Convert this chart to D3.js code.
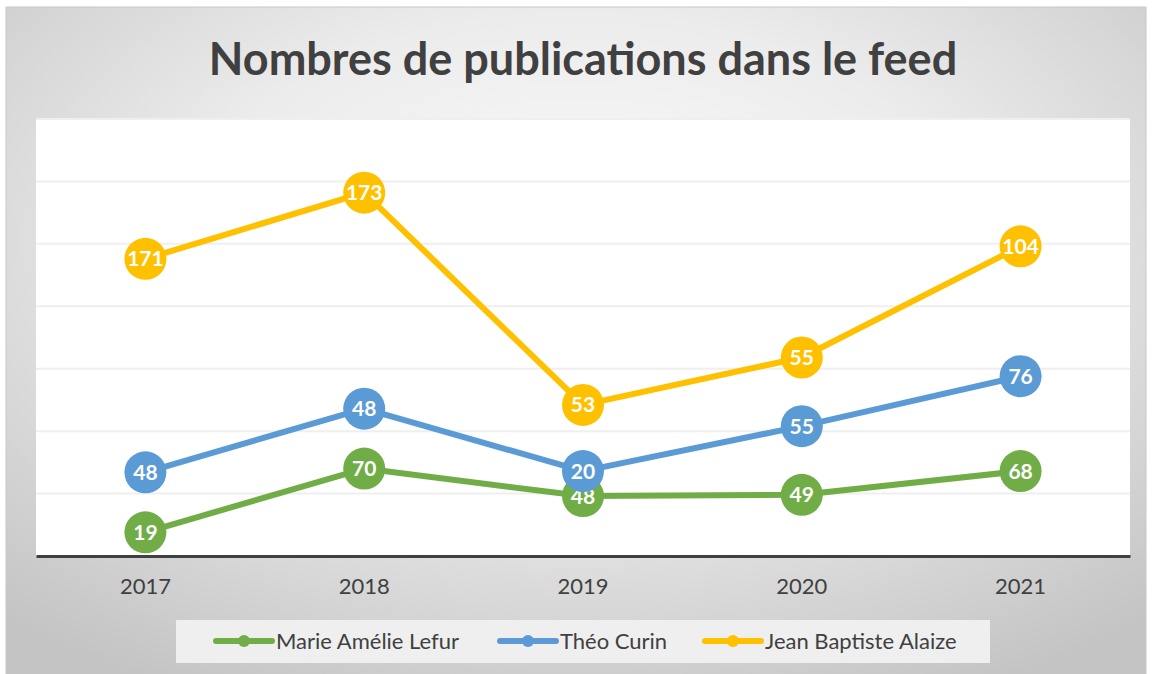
<!DOCTYPE html>
<html>
<head>
<meta charset="utf-8">
<script src="https://cdn.jsdelivr.net/npm/d3@7"></script>
<style>
  body { margin: 0; background: #fff; }
  svg { display: block; }
</style>
</head>
<body>
<div id="chart"></div>
<script>
// Data (stacked lines)
const years = ['2017', '2018', '2019', '2020', '2021'];
const marie = [19, 70, 48, 49, 68];
const theo = [48, 48, 20, 55, 76];
const jean = [171, 173, 53, 55, 104];
const seriesNames = ['Marie Amélie Lefur', 'Théo Curin', 'Jean Baptiste Alaize'];
const seriesColors = ['#70ad47', '#5b9bd5', '#ffc000'];
const yTicks = [0, 50, 100, 150, 200, 250, 300, 350];

const W = 1152, H = 674;
const plot = { left: 36, right: 1130, top: 119, bottom: 556 };

const svg = d3.select('#chart').append('svg')
	.attr('width', W)
	.attr('height', H);

// Background gradient like the Excel chart area
const defs = svg.append('defs');
const grad = defs.append('radialGradient')
	.attr('id', 'bg')
	.attr('cx', '50%').attr('cy', '35%')
	.attr('r', '75%');
grad.append('stop').attr('offset', '0%').attr('stop-color', '#fbfbfb');
grad.append('stop').attr('offset', '45%').attr('stop-color', '#ececec');
grad.append('stop').attr('offset', '100%').attr('stop-color', '#c4c4c4');

svg.append('rect')
	.attr('x', 6).attr('y', 7)
	.attr('width', 1140).attr('height', 670)
	.attr('fill', 'url(#bg)')
	.attr('stroke', '#c8c8c8')
	.attr('stroke-width', 1);

// Title
svg.append('text')
	.attr('x', 583)
	.attr('y', 75)
	.attr('text-anchor', 'middle')
	.attr('fill', '#404040')
	.style('font-family', 'Lato, "Open Sans", sans-serif')
	.style('font-weight', 'bold')
	.style('font-size', '45px')
	.text('Nombres de publications dans le feed');

// Plot area
svg.append('rect')
	.attr('x', plot.left).attr('y', plot.top)
	.attr('width', plot.right - plot.left)
	.attr('height', plot.bottom - plot.top)
	.attr('fill', '#ffffff');

// Scales
const x = d3.scaleBand().domain(years).range([plot.left, plot.right]);
const y = d3.scaleLinear().domain([0, 350]).range([plot.bottom, plot.top]);

// Gridlines
svg.append('g')
	.selectAll('line')
	.data(yTicks.slice(1))
	.enter()
	.append('line')
	.attr('x1', plot.left).attr('x2', plot.right)
	.attr('y1', (d) => y(d)).attr('y2', (d) => y(d))
	.attr('stroke', '#efefef')
	.attr('stroke-width', 2);

// X axis
const xAxis = svg.append('g')
	.attr('transform', `translate(0,${plot.bottom})`)
	.call(d3.axisBottom(x).tickSize(0).tickPadding(22));
xAxis.select('.domain')
	.attr('stroke', '#404040')
	.attr('stroke-width', 3);
xAxis.selectAll('text')
	.attr('fill', '#404040')
	.style('font-family', 'Lato, "Open Sans", sans-serif')
	.style('font-size', '22px');

// Stacked data
const rows = years.map((yr, i) => ({ year: yr, a: marie[i], b: theo[i], c: jean[i] }));
const stack = d3.stack().keys(['a', 'b', 'c'])(rows);
const raw = [marie, theo, jean];

const line = d3.line()
	.x((d) => x(d.data.year) + x.bandwidth() / 2)
	.y((d) => y(d[1]));

stack.forEach((layer, si) => {
	svg.append('path')
		.datum(layer)
		.attr('d', line)
		.attr('fill', 'none')
		.attr('stroke', seriesColors[si])
		.attr('stroke-width', 6)
		.attr('stroke-linejoin', 'round')
		.attr('stroke-linecap', 'round');
});

stack.forEach((layer, si) => {
	const g = svg.append('g');
	g.selectAll('circle')
		.data(layer)
		.enter()
		.append('circle')
		.attr('cx', (d) => x(d.data.year) + x.bandwidth() / 2)
		.attr('cy', (d) => y(d[1]))
		.attr('r', 21)
		.attr('fill', seriesColors[si]);
	g.selectAll('text')
		.data(layer)
		.enter()
		.append('text')
		.attr('x', (d) => x(d.data.year) + x.bandwidth() / 2)
		.attr('y', (d) => y(d[1]))
		.attr('dy', '0.36em')
		.attr('text-anchor', 'middle')
		.attr('fill', '#ffffff')
		.style('font-family', 'Lato, "Open Sans", sans-serif')
		.style('font-weight', 'bold')
		.style('font-size', '21px')
		.text((d, i) => raw[si][i]);
});

// Legend
svg.append('rect')
	.attr('x', 176).attr('y', 620)
	.attr('width', 814).attr('height', 43)
	.attr('fill', '#efefef');

const legendX = [216, 500, 705];
seriesNames.forEach((name, i) => {
	const g = svg.append('g').attr('transform', `translate(${legendX[i]},641)`);
	g.append('line')
		.attr('x1', 0).attr('x2', 56)
		.attr('stroke', seriesColors[i])
		.attr('stroke-width', 6)
		.attr('stroke-linecap', 'round');
	g.append('circle')
		.attr('cx', 28).attr('r', 6)
		.attr('fill', seriesColors[i]);
	g.append('text')
		.attr('x', 60)
		.attr('dy', '0.35em')
		.attr('fill', '#404040')
		.style('font-family', 'Lato, "Open Sans", sans-serif')
		.style('font-size', '22px')
		.text(name);
});
</script>
</body>
</html>
